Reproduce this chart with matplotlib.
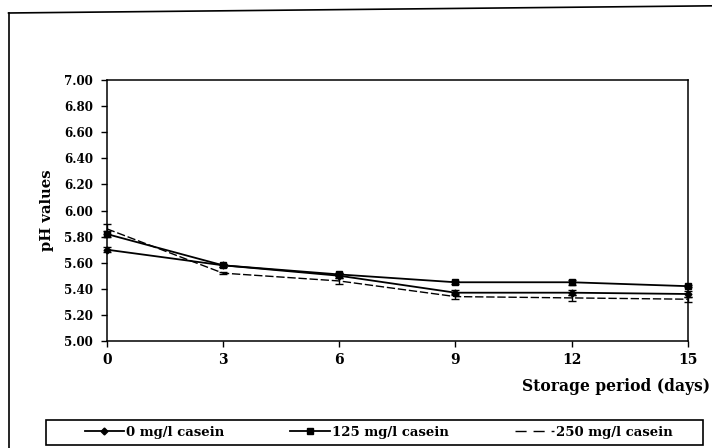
import matplotlib.pyplot as plt
from matplotlib.lines import Line2D
from matplotlib.patches import Rectangle

days = [0, 3, 6, 9, 12, 15]
ph_0 = [5.70, 5.58, 5.50, 5.37, 5.37, 5.36]
ph_125 = [5.82, 5.58, 5.51, 5.45, 5.45, 5.42]
ph_250 = [5.86, 5.52, 5.46, 5.34, 5.33, 5.32]
err_0 = [0.02, 0.01, 0.02, 0.02, 0.02, 0.02]
err_125 = [0.02, 0.01, 0.01, 0.01, 0.02, 0.01]
err_250 = [0.04, 0.01, 0.02, 0.02, 0.02, 0.02]
labels = ["0 mg/l casein", "125 mg/l casein", "250 mg/l casein"]
yticks = [5.00, 5.20, 5.40, 5.60, 5.80, 6.00, 6.20, 6.40, 6.60, 6.80, 7.00]

plt.rcParams["font.family"] = ["DejaVu Serif"]
plt.rcParams["font.weight"] = "bold"

fig = plt.figure(figsize=(7.12, 4.48), dpi=100)
ax = fig.add_axes([0.150, 0.239, 0.816, 0.582])

series = [
    (ph_0, err_0, dict(lw=1.3, marker="D", ms=3.5)),
    (ph_125, err_125, dict(lw=1.3, marker="s", ms=4.5)),
    (ph_250, err_250, dict(lw=1.0, ls=(0, (6, 2)))),
]
for vals, errs, style in series:
    line, caps, bars = ax.errorbar(days, vals, yerr=errs, color="black",
                                   capsize=3, elinewidth=1, **style)
    line.set_clip_on(False)
    for c in caps:
        c.set_clip_on(False)
    for b in bars:
        b.set_clip_on(False)

ax.set_xlim(0, 15)
ax.set_ylim(5, 7)
ax.set_xticks(days)
ax.set_yticks(yticks)
ax.set_yticklabels([f"{v:.2f}" for v in yticks], fontsize=8.6, fontweight="bold")
ax.set_xticklabels([str(d) for d in days], fontsize=10, fontweight="bold")
ax.tick_params(axis="both", direction="out", length=4, width=1)
ax.tick_params(axis="y", pad=6)
ax.tick_params(axis="x", pad=5)
for s in ax.spines.values():
    s.set_linewidth(1.1)

ax.set_ylabel("pH values", fontsize=10.6, fontweight="bold", labelpad=7)
fig.text(0.997, 0.138, "Storage period (days)", ha="right", va="center",
         fontsize=11.2, fontweight="bold")

handles = [
    Line2D([], [], color="black", lw=1.3, marker="D", ms=3.5),
    Line2D([], [], color="black", lw=1.3, marker="s", ms=4),
    Line2D([], [], color="black", lw=1.0, ls=(0, (8, 5))),
]
fig.legend(handles, labels, loc="center left", bbox_to_anchor=(0.1096, 0.0357),
           ncol=3, frameon=False, borderpad=0, handlelength=3.0,
           handletextpad=0.15, columnspacing=5.0,
           prop={"weight": "bold", "size": 9.5})
fig.add_artist(Rectangle((0.0646, 0.0067), 0.9228, 0.0558, transform=fig.transFigure,
                         fill=False, edgecolor="black", lw=1.2))

# outer frame
fig.add_artist(Line2D([0.012, 0.012], [0.0, 0.971], color="black", lw=1.2))
fig.add_artist(Line2D([0.012, 1.0], [0.971, 0.987], color="black", lw=1.2))

fig.savefig("out.png", dpi=100)
